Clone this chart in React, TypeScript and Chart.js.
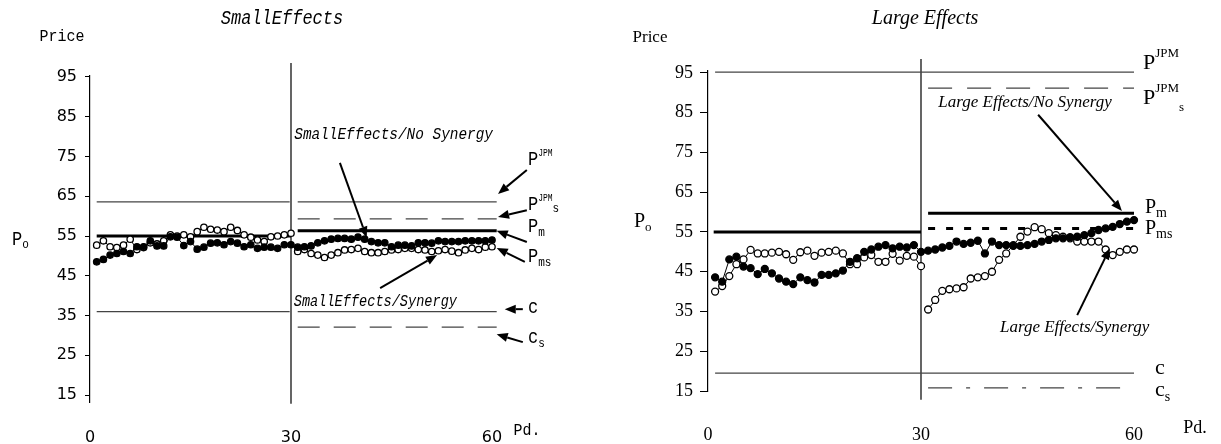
import React, { useEffect, useRef } from "react";
import { Chart, registerables } from "chart.js";

Chart.register(...registerables);

// ---------- DATA ----------
const periodsBefore = [1, 2, 3, 4, 5, 6, 7, 8, 9, 10, 11, 12, 13, 14, 15, 16, 17, 18, 19, 20, 21, 22, 23, 24, 25, 26, 27, 28, 29, 30];
const periodsAfter = [31, 32, 33, 34, 35, 36, 37, 38, 39, 40, 41, 42, 43, 44, 45, 46, 47, 48, 49, 50, 51, 52, 53, 54, 55, 56, 57, 58, 59, 60];
const xTickValues = [0, 30, 60];
const yTickValues = [15, 25, 35, 45, 55, 65, 75, 85, 95];

// Small effects (left panel)
const smallNoSynergy = [
  48.5, 49.1, 50.2, 50.6, 51.1, 50.6, 52.3, 52.3, 53.8, 52.5, 52.5, 54.8, 54.7, 52.6, 53.6, 51.7, 52.2, 53.2, 53.3, 52.8,
  53.6, 53.2, 52.3, 52.8, 51.9, 52.2, 52.2, 51.9, 52.8, 52.8,
  52.2, 52.3, 52.5, 53.3, 53.8, 54.2, 54.4, 54.4, 54.2, 54.7, 54.2, 53.6, 53.3, 53.3, 52.3, 52.7, 52.7, 52.5, 53.3, 53.3,
  53.2, 53.8, 53.6, 53.6, 53.6, 53.8, 53.8, 53.8, 53.8, 54.0,
];
const smallSynergy = [
  52.7, 53.8, 52.3, 52.1, 52.7, 54.2, 51.6, 52.1, 53.3, 53.0, 53.8, 55.3, 55.0, 55.3, 54.8, 56.1, 57.2, 56.7, 56.5, 56.1,
  57.2, 56.4, 55.3, 54.7, 54.0, 53.6, 54.8, 55.0, 55.3, 55.7,
  51.1, 51.6, 50.6, 50.2, 49.6, 50.2, 50.8, 51.5, 51.6, 51.9, 51.1, 50.8, 50.8, 51.1, 51.5, 51.6, 51.9, 51.9, 51.6, 51.5,
  51.1, 51.3, 51.6, 51.2, 50.8, 51.5, 51.9, 51.6, 52.2, 52.3,
];
const smallJPM = 63.6;
const smallJPMs = 59.3;
const smallPmBefore = 55.0;
const smallPmAfter = 56.3;
const smallC = 36.0;
const smallCs = 32.1;

// Large effects (right panel)
const largeNoSynergy = [
  43.6, 42.5, 48.1, 48.8, 46.3, 45.9, 44.4, 45.7, 44.6, 43.3, 42.5, 41.9, 43.6, 42.9, 42.3, 44.2, 44.2, 44.6, 45.3, 47.5,
  48.4, 50.0, 50.6, 51.3, 51.7, 50.9, 51.3, 51.1, 51.7, 50.0,
  50.3, 50.6, 51.1, 51.5, 52.6, 52.0, 52.3, 52.8, 49.6, 52.6, 51.7, 51.7, 51.5, 51.5, 51.7, 52.0, 52.6, 53.0, 53.4, 53.4,
  53.7, 53.8, 54.2, 54.7, 55.5, 55.9, 56.3, 57.0, 57.6, 58.0,
];
const largeSynergy = [
  40.0, 41.4, 43.9, 46.9, 48.1, 50.5, 49.6, 49.6, 49.8, 50.0, 49.4, 48.0, 49.9, 50.3, 49.0, 49.8, 50.0, 50.3, 49.6, 46.9,
  46.9, 48.6, 49.2, 47.5, 47.5, 49.5, 47.8, 49.0, 48.8, 46.4,
  35.5, 37.9, 40.2, 40.6, 40.8, 41.1, 43.3, 43.6, 43.9, 45.0, 48.0, 49.6, 51.7, 53.8, 55.1, 56.2, 55.7, 54.7, 54.2, 53.8,
  53.4, 52.6, 52.6, 52.6, 52.6, 50.6, 49.2, 50.0, 50.6, 50.6,
];
const largeJPM = 95.2;
const largeJPMs = 91.2;
const largePmBefore = 55.0;
const largePmAfter = 59.7;
const largePms = 55.9;
const largeC = 19.5;
const largeCs = 15.8;

const treatmentPeriod = 30;

// ---------- STYLE ----------
const MONO = "'Liberation Mono', 'DejaVu Sans Mono', monospace";
const SERIF = "'Liberation Serif', 'DejaVu Serif', serif";
const SANS = "'DejaVu Sans', sans-serif";
const THIN = "#444";

type Part = { t: string; font: string; dy?: number; sx?: number };
type TextSpec = { x: number; y: number; parts: Part[]; align?: "left" | "center" | "right" };
type ArrowSpec = { from: [number, number]; to: [number, number] };

function drawParts(ctx: CanvasRenderingContext2D, spec: TextSpec) {
  const widths = spec.parts.map((p) => {
    ctx.font = p.font;
    return ctx.measureText(p.t).width * (p.sx ?? 1);
  });
  const total = widths.reduce((a, b) => a + b, 0);
  let cx = spec.align === "center" ? spec.x - total / 2 : spec.align === "right" ? spec.x - total : spec.x;
  spec.parts.forEach((p, i) => {
    ctx.save();
    ctx.font = p.font;
    ctx.fillStyle = "#000";
    ctx.textBaseline = "middle";
    ctx.textAlign = "left";
    ctx.translate(cx, spec.y + (p.dy ?? 0));
    ctx.scale(p.sx ?? 1, 1);
    ctx.fillText(p.t, 0, 0);
    ctx.restore();
    cx += widths[i];
  });
}

function drawArrow(ctx: CanvasRenderingContext2D, x0: number, y0: number, x1: number, y1: number) {
  const ang = Math.atan2(y1 - y0, x1 - x0);
  const head = 11;
  const half = 4.5;
  const bx = x1 - head * Math.cos(ang);
  const by = y1 - head * Math.sin(ang);
  ctx.save();
  ctx.strokeStyle = "#000";
  ctx.fillStyle = "#000";
  ctx.lineWidth = 2;
  ctx.beginPath();
  ctx.moveTo(x0, y0);
  ctx.lineTo(bx, by);
  ctx.stroke();
  ctx.beginPath();
  ctx.moveTo(x1, y1);
  ctx.lineTo(bx + half * Math.sin(ang), by - half * Math.cos(ang));
  ctx.lineTo(bx - half * Math.sin(ang), by + half * Math.cos(ang));
  ctx.closePath();
  ctx.fill();
  ctx.restore();
}

function overlay(id: string, texts: TextSpec[], arrows: ArrowSpec[]) {
  return {
    id,
    afterDraw(chart: any) {
      const ctx: CanvasRenderingContext2D = chart.ctx;
      const xs = chart.scales.x;
      const ys = chart.scales.y;
      arrows.forEach((a) =>
        drawArrow(
          ctx,
          xs.getPixelForValue(a.from[0]),
          ys.getPixelForValue(a.from[1]),
          xs.getPixelForValue(a.to[0]),
          ys.getPixelForValue(a.to[1])
        )
      );
      texts.forEach((t) => drawParts(ctx, t));
    },
  };
}

function seriesSets(values: number[], filled: boolean, radius: number) {
  const first = periodsBefore.map((p, i) => ({ x: p, y: values[i] }));
  const second = periodsAfter.map((p, i) => ({ x: p, y: values[periodsBefore.length + i] }));
  return [first, second].map((data) => ({
    data,
    borderColor: "#000",
    borderWidth: 1,
    pointRadius: radius,
    pointStyle: "circle",
    pointBackgroundColor: filled ? "#000" : "#fff",
    pointBorderColor: "#000",
    pointBorderWidth: 1.3,
    fill: false,
    tension: 0,
  }));
}

function hline(y: number, x0: number, x1: number, width: number, dash: number[], color: string) {
  return {
    data: [
      { x: x0, y },
      { x: x1, y },
    ],
    borderColor: color,
    borderWidth: width,
    borderDash: dash,
    pointRadius: 0,
    fill: false,
    clip: false as any,
  };
}

function vline(x: number, yTop: number, yBottom: number) {
  return {
    data: [
      { x, y: yTop },
      { x, y: yBottom },
    ],
    borderColor: "#000",
    borderWidth: 1.2,
    pointRadius: 0,
    fill: false,
    clip: false as any,
  };
}

function baseOptions(o: {
  padRight: number;
  padTop: number;
  yMin: number;
  yMax: number;
  xMax: number;
  yWidth: number;
  xHeight: number;
  tickFont: any;
  tickLen: number;
  yPad: number;
  xPad: number;
}) {
  return {
    animation: false,
    responsive: false,
    maintainAspectRatio: false,
    events: [],
    layout: { padding: { left: 0, right: o.padRight, top: o.padTop, bottom: 0 } },
    plugins: { legend: { display: false }, tooltip: { enabled: false }, title: { display: false } },
    scales: {
      x: {
        type: "linear",
        min: 0,
        max: o.xMax,
        afterBuildTicks: (s: any) => {
          s.ticks = xTickValues.map((v) => ({ value: v }));
        },
        afterFit: (s: any) => {
          s.height = o.xHeight;
        },
        grid: { display: false },
        border: { display: false },
        ticks: { color: "#000", font: o.tickFont, padding: o.xPad, maxRotation: 0, autoSkip: false },
      },
      y: {
        type: "linear",
        min: o.yMin,
        max: o.yMax,
        afterBuildTicks: (s: any) => {
          s.ticks = yTickValues.map((v) => ({ value: v }));
        },
        afterFit: (s: any) => {
          s.width = o.yWidth;
        },
        grid: { display: true, drawOnChartArea: false, drawTicks: true, tickLength: o.tickLen, color: "#000", lineWidth: 1 },
        border: { display: true, color: "#000", width: 1.2 },
        ticks: { color: "#000", font: o.tickFont, padding: o.yPad, autoSkip: false },
      },
    },
  };
}

function smallConfig(): any {
  const M = (size: number, italic = false) => `${italic ? "italic " : ""}${size}px ${MONO}`;
  const texts: TextSpec[] = [
    { x: 282, y: 19, align: "center", parts: [{ t: "SmallEffects", font: M(20, true), sx: 0.85 }] },
    { x: 62, y: 36, align: "center", parts: [{ t: "Price", font: M(17), sx: 0.88 }] },
    { x: 12, y: 240, parts: [{ t: "P", font: M(20), sx: 0.85 }, { t: "o", font: M(13), sx: 0.85, dy: 5 }] },
    { x: 527, y: 430, align: "center", parts: [{ t: "Pd.", font: M(17), sx: 0.88 }] },
    { x: 528, y: 160, parts: [{ t: "P", font: M(20), sx: 0.85 }, { t: "JPM", font: M(10), sx: 0.8, dy: -7 }] },
    {
      x: 528,
      y: 205,
      parts: [
        { t: "P", font: M(20), sx: 0.85 },
        { t: "JPM", font: M(10), sx: 0.8, dy: -7 },
        { t: "s", font: M(13), sx: 0.85, dy: 4 },
      ],
    },
    { x: 528, y: 227, parts: [{ t: "P", font: M(20), sx: 0.85 }, { t: "m", font: M(13), sx: 0.85, dy: 6 }] },
    { x: 528, y: 257, parts: [{ t: "P", font: M(20), sx: 0.85 }, { t: "ms", font: M(13), sx: 0.85, dy: 6 }] },
    { x: 528, y: 308, parts: [{ t: "c", font: M(20), sx: 0.85 }] },
    { x: 528, y: 338, parts: [{ t: "c", font: M(20), sx: 0.85 }, { t: "s", font: M(13), sx: 0.85, dy: 6 }] },
    { x: 493, y: 135, align: "right", parts: [{ t: "SmallEffects/No Synergy", font: M(16, true), sx: 0.9 }] },
    { x: 457, y: 302, align: "right", parts: [{ t: "SmallEffects/Synergy", font: M(16, true), sx: 0.85 }] },
  ];
  const arrows: ArrowSpec[] = [
    { from: [65.2, 71.6], to: [60.9, 65.6] },
    { from: [65.2, 61.5], to: [60.9, 59.8] },
    { from: [65.2, 53.5], to: [60.7, 56.3] },
    { from: [64.9, 48.5], to: [60.7, 52.0] },
    { from: [64.6, 36.6], to: [61.9, 36.6] },
    { from: [64.6, 28.3], to: [60.7, 30.3] },
    { from: [37.3, 73.4], to: [41.3, 54.6] },
    { from: [43.3, 41.9], to: [51.8, 50.2] },
  ];
  const datasets = [
    ...seriesSets(smallNoSynergy, true, 3.2),
    ...seriesSets(smallSynergy, false, 3.2),
    hline(smallJPM, 1, 29.8, 1.2, [], THIN),
    hline(smallJPM, 31, 60.7, 1.2, [], THIN),
    hline(smallJPMs, 31, 60.7, 1.2, [22, 14], THIN),
    hline(smallPmBefore, 1, 30, 3, [], "#000"),
    hline(smallPmAfter, 31, 60.7, 3, [], "#000"),
    hline(smallC, 1, 29.8, 1.2, [], THIN),
    hline(smallC, 31, 60.7, 1.2, [], THIN),
    hline(smallCs, 31, 60.7, 1.2, [22, 14], THIN),
    vline(treatmentPeriod, 98.5, 12.8),
  ];
  return {
    type: "line",
    data: { datasets },
    options: baseOptions({
      padRight: 610 - (90 + 62 * 6.7),
      padTop: 75.8,
      yMin: 13.2,
      yMax: 95.3,
      xMax: 62,
      yWidth: 90,
      xHeight: 444 - 402.2,
      tickFont: { family: SANS, size: 16 },
      tickLen: 5,
      yPad: 8,
      xPad: 18,
    }),
    plugins: [overlay("smallOverlay", texts, arrows)],
  };
}

function largeConfig(): any {
  const S = (size: number, italic = false) => `${italic ? "italic " : ""}${size}px ${SERIF}`;
  const texts: TextSpec[] = [
    { x: 315, y: 19, align: "center", parts: [{ t: "Large Effects", font: S(20, true) }] },
    { x: 40, y: 38, align: "center", parts: [{ t: "Price", font: S(17) }] },
    { x: 24, y: 222, parts: [{ t: "P", font: S(20) }, { t: "o", font: S(13), dy: 6 }] },
    { x: 585, y: 428, align: "center", parts: [{ t: "Pd.", font: S(18) }] },
    { x: 533, y: 63, parts: [{ t: "P", font: S(22) }, { t: "JPM", font: S(13), dy: -9 }] },
    {
      x: 533,
      y: 98,
      parts: [
        { t: "P", font: S(22) },
        { t: "JPM", font: S(13), dy: -9 },
        { t: "s", font: S(13), dy: 10 },
      ],
    },
    { x: 535, y: 208, parts: [{ t: "P", font: S(20) }, { t: "m", font: S(14), dy: 5 }] },
    { x: 535, y: 229, parts: [{ t: "P", font: S(20) }, { t: "ms", font: S(14), dy: 5 }] },
    { x: 545, y: 368, parts: [{ t: "c", font: S(22) }] },
    { x: 545, y: 390, parts: [{ t: "c", font: S(22) }, { t: "s", font: S(14), dy: 7 }] },
    { x: 415, y: 103, align: "center", parts: [{ t: "Large Effects/No Synergy", font: S(17, true) }] },
    { x: 390, y: 328, align: "left", parts: [{ t: "Large Effects/Synergy", font: S(17, true) }] },
  ];
  const arrows: ArrowSpec[] = [
    { from: [46.5, 84.5], to: [58.3, 60.3] },
    { from: [52.0, 34.1], to: [56.6, 50.9] },
  ];
  const datasets = [
    ...seriesSets(largeNoSynergy, true, 3.5),
    ...seriesSets(largeSynergy, false, 3.5),
    hline(largeJPM, 1, 60, 1.2, [], THIN),
    hline(largeJPMs, 31, 60, 1.2, [24, 15], THIN),
    hline(largePmBefore, 0.8, 30, 3, [], "#000"),
    hline(largePmAfter, 31, 60, 3, [], "#000"),
    hline(largePms, 31, 60, 3, [7, 11], "#000"),
    hline(largeC, 1, 60, 1.2, [], THIN),
    hline(largeCs, 31, 60, 1.2, [24, 14, 4, 14], THIN),
    vline(treatmentPeriod, 98.5, 12.8),
  ];
  return {
    type: "line",
    data: { datasets },
    options: baseOptions({
      padRight: 611 - (98 + 62 * 7.1),
      padTop: 70.6,
      yMin: 15,
      yMax: 95.6,
      xMax: 62,
      yWidth: 98,
      xHeight: 444 - 391,
      tickFont: { family: SERIF, size: 18 },
      tickLen: 8,
      yPad: 7,
      xPad: 25,
    }),
    plugins: [overlay("largeOverlay", texts, arrows)],
  };
}

export default function App() {
  const leftRef = useRef<HTMLCanvasElement>(null);
  const rightRef = useRef<HTMLCanvasElement>(null);
  useEffect(() => {
    const a = new Chart(leftRef.current as HTMLCanvasElement, smallConfig());
    const b = new Chart(rightRef.current as HTMLCanvasElement, largeConfig());
    return () => {
      a.destroy();
      b.destroy();
    };
  }, []);
  return (
    <div style={{ position: "absolute", left: 0, top: 0, width: 1221, height: 444, background: "#fff" }}>
      <canvas ref={leftRef} width={610} height={444} style={{ position: "absolute", left: 0, top: 0, width: 610, height: 444 }} />
      <canvas ref={rightRef} width={611} height={444} style={{ position: "absolute", left: 610, top: 0, width: 611, height: 444 }} />
    </div>
  );
}
